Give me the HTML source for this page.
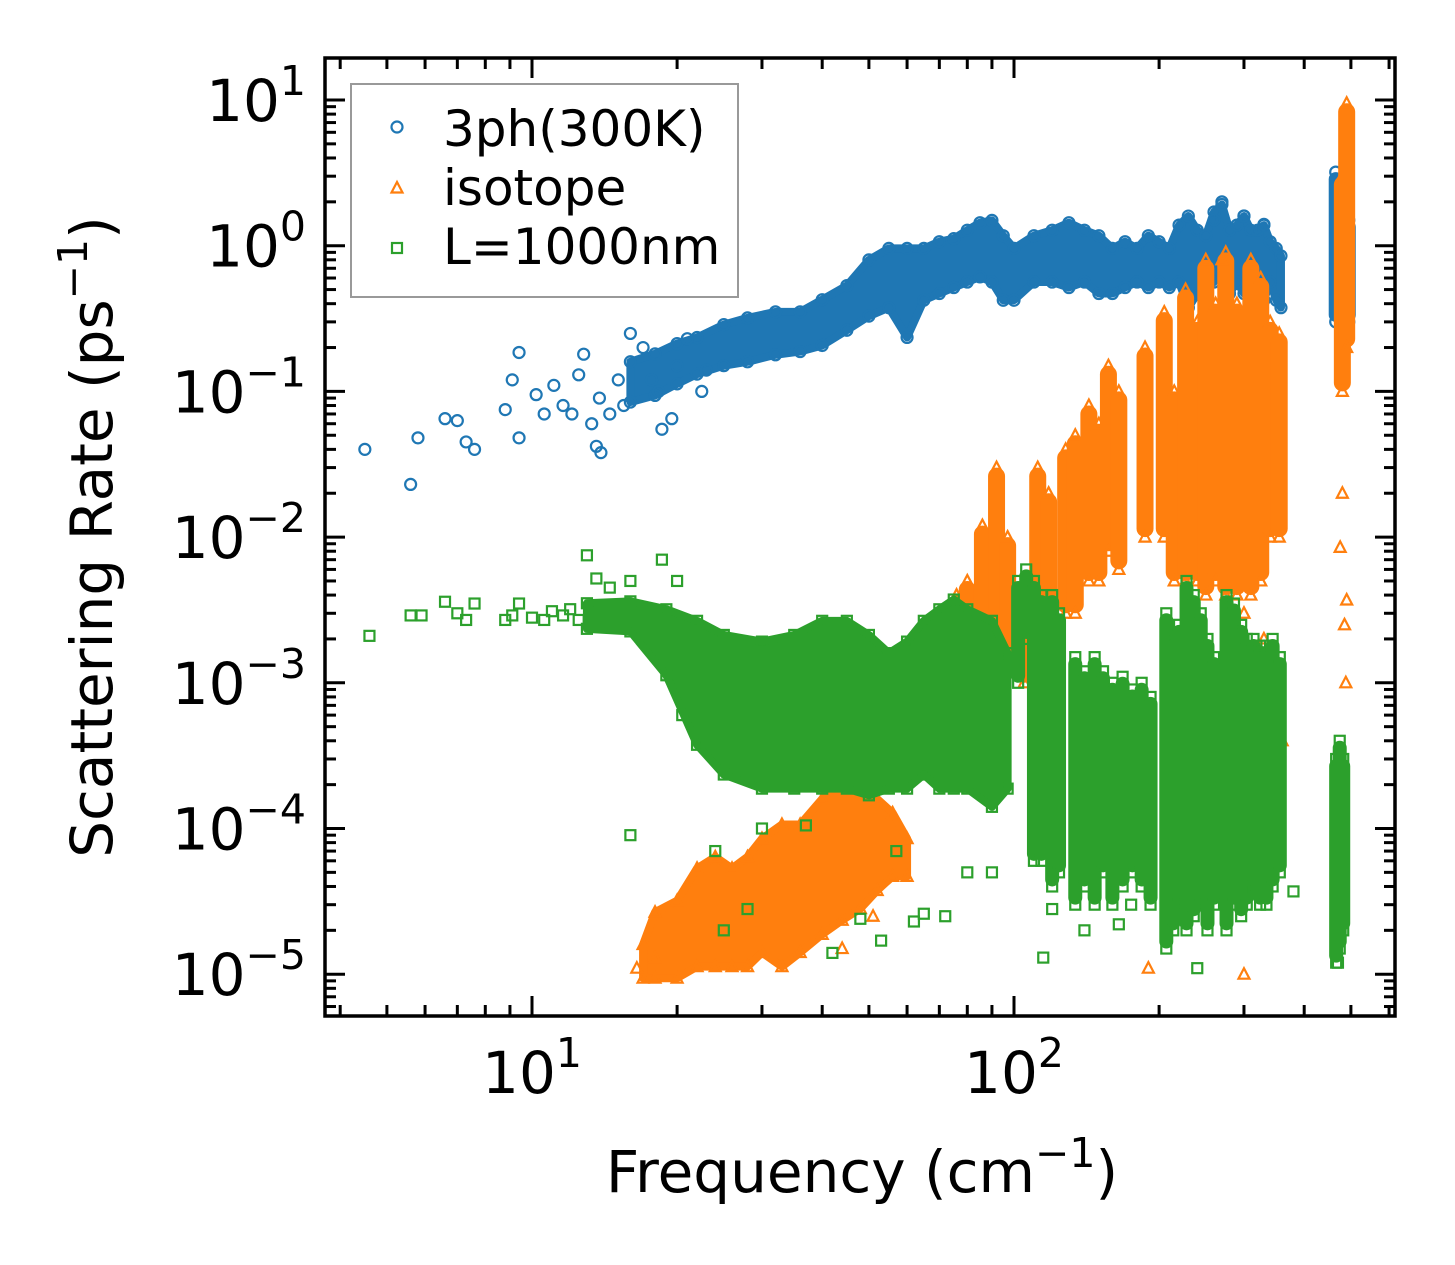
<!DOCTYPE html>
<html><head><meta charset="utf-8"><style>
html,body{margin:0;padding:0;background:#fff;}
svg{display:block;font-family:"DejaVu Sans","Liberation Sans",sans-serif;}
</style></head><body>
<svg id="chart" width="1455" height="1265" viewBox="0 0 1455 1265" xmlns="http://www.w3.org/2000/svg">
<rect width="1455" height="1265" fill="#fff"/>
<g id="plot"></g>
<g id="axes"></g>
</svg>
<script>
// ---------------- data ----------------
// 3ph(300K)
const blueAreaF  = [16,18,20,22,25,28,32,36,40,45,50,55,60,65,70,75,80,85,90,95,100,110,120,130,140,150,160,170,180,190,200,210,220,230,240,250,260,270,280,290,300,310,320,330,340,350,358];
const blueAreaLo = [0.09,0.1,0.12,0.14,0.16,0.17,0.19,0.2,0.22,0.28,0.35,0.4,0.25,0.45,0.5,0.55,0.6,0.65,0.6,0.45,0.45,0.6,0.6,0.55,0.6,0.5,0.5,0.55,0.6,0.55,0.6,0.55,0.6,0.4,0.5,0.55,0.6,0.7,0.5,0.6,0.5,0.6,0.5,0.45,0.6,0.45,0.4];
const blueAreaHi = [0.15,0.17,0.2,0.22,0.27,0.3,0.33,0.33,0.4,0.5,0.75,0.9,0.9,0.9,1.0,1.05,1.2,1.35,1.4,1.1,0.9,1.1,1.2,1.35,1.2,1.1,0.9,1.0,0.9,1.1,1.0,0.9,1.3,1.5,1.2,1.1,1.6,1.8,1.2,1.3,1.5,1.2,1.2,1.3,1.0,0.9,0.8];
const blueSpikeF  = [465,480,495];
const blueSpikeLo = [0.3,0.3,0.3];
const blueSpikeHi = [3.2,2.5,1.5];
const bluePtsF = [4.5,5.6,5.8,6.6,7.0,7.3,7.6,8.8,9.1,9.4,9.4,10.2,10.6,11.1,11.6,12.1,12.5,12.8,13.3,13.6,13.9,13.8,14.5,15.1,15.5,16,17,17.7,18.3,18.6,19.5,20,21,22.5,23,270,300,260,330];
const bluePtsR = [0.04,0.023,0.048,0.065,0.063,0.045,0.04,0.075,0.12,0.185,0.048,0.095,0.07,0.11,0.08,0.07,0.13,0.18,0.06,0.042,0.038,0.09,0.07,0.12,0.08,0.25,0.2,0.12,0.1,0.055,0.065,0.15,0.23,0.1,0.14,2.0,1.6,1.5,1.4];
// isotope
const orAreaF  = [17,18,20,22,24,26,28,30,33,36,40,44,48,52,56,60];
const orAreaLo = [1e-5,1e-5,1e-5,1.2e-5,1.2e-5,1.2e-5,1.2e-5,1.5e-5,1.2e-5,1.5e-5,2e-5,2.5e-5,3e-5,4e-5,5e-5,5e-5];
const orAreaHi = [1.5e-5,2.5e-5,3e-5,5e-5,6e-5,5e-5,6e-5,8e-5,1e-4,1e-4,1.5e-4,2e-4,2e-4,1.5e-4,1.2e-4,8e-5];
const orSpikeF  = [76,80,86,92,97,105,112,118,128,134,143,150,157,165,187,205,215,227,240,250,262,275,290,310,325,340,355,480,490];
const orSpikeLo = [8e-4,1e-3,1.5e-3,2e-3,1.5e-3,1e-3,1.5e-3,2e-3,3e-3,3e-3,5e-3,5e-3,8e-3,6e-3,0.01,0.01,0.005,0.005,0.005,0.004,0.005,0.004,0.004,0.004,0.005,0.01,0.01,0.1,0.2];
const orSpikeHi = [4e-3,5e-3,0.012,0.03,0.01,0.005,0.03,0.02,0.04,0.05,0.08,0.06,0.15,0.1,0.2,0.35,0.1,0.5,0.3,0.8,0.4,0.9,0.4,0.8,0.6,0.3,0.25,3,9.5];
const orPtsF = [190,300,270,480,485,475,490,488,350,360,330,300,250,210,16.5,18,24,44,51];
const orPtsR = [1.1e-5,1e-5,0.8,0.02,0.0025,0.0085,0.0037,1e-3,5e-4,4e-4,2e-3,3e-3,1.5e-3,2e-3,1.1e-5,1.3e-5,2e-5,1.5e-5,2.5e-5];
// L=1000nm
const grAreaF  = [13,16,19,22,25,30,35,40,45,50,55,60,65,70,75,80,90,97];
const grAreaLo = [2.5e-3,2.4e-3,1.2e-3,4e-4,2.5e-4,2e-4,2e-4,2e-4,2e-4,1.8e-4,2e-4,2e-4,2.5e-4,2e-4,2e-4,2e-4,1.5e-4,2e-4];
const grAreaHi = [3.3e-3,3.4e-3,3e-3,2.5e-3,2e-3,1.8e-3,2e-3,2.5e-3,2.5e-3,2e-3,1.5e-3,1.8e-3,2.5e-3,3e-3,3.5e-3,3e-3,2.5e-3,1.5e-3];
const grSpikeF  = [102,106,110,114,120,124,134,140,147,153,160,168,176,184,192,207,214,220,228,236,244,252,260,276,286,296,304,314,324,334,344,356,466,474,482];
const grSpikeLo = [1e-3,2e-3,6e-5,6e-5,4e-5,5e-5,3e-5,4e-5,3e-5,5e-5,3e-5,4e-5,5e-5,4e-5,3e-5,1.5e-5,2e-5,3e-5,2e-5,2.5e-5,3e-5,2e-5,3e-5,2e-5,3e-5,2.5e-5,3e-5,4e-5,3e-5,3e-5,4e-5,5e-5,1.2e-5,1.5e-5,2e-5];
const grSpikeHi = [5e-3,6e-3,5e-3,4e-3,4e-3,3e-3,1.5e-3,1.2e-3,1.5e-3,1.2e-3,1e-3,1.1e-3,9e-4,1e-3,8e-4,3e-3,2e-3,2.5e-3,5e-3,4e-3,3e-3,2e-3,1.5e-3,4e-3,3.5e-3,2.5e-3,2e-3,2e-3,1.8e-3,1.8e-3,2e-3,1.5e-3,3e-4,4e-4,3e-4];
const grPtsF = [4.6,5.6,5.9,6.6,7.0,7.3,7.6,8.8,9.1,9.4,10,10.6,11,11.6,12,12.5,13,13.6,14.5,16,18.6,20,16,19.5,20.5,24,25,28,30,37,42,48,53,57,62,65,72,80,90,115,120,140,165,175,240,300,380,470];
const grPtsR = [2.1e-3,2.9e-3,2.9e-3,3.6e-3,3.0e-3,2.7e-3,3.5e-3,2.7e-3,2.9e-3,3.5e-3,2.8e-3,2.7e-3,3.1e-3,2.9e-3,3.2e-3,2.7e-3,7.5e-3,5.2e-3,4.5e-3,5e-3,7e-3,5e-3,9e-5,1.1e-3,6e-4,7e-5,2e-5,2.8e-5,1e-4,1.05e-4,1.4e-5,2.4e-5,1.7e-5,7e-5,2.3e-5,2.6e-5,2.5e-5,5e-5,5e-5,1.3e-5,2.8e-5,2e-5,2.2e-5,3e-5,1.1e-5,3.8e-5,3.7e-5,1.2e-5];
const yTickExps = [1,0,-1,-2,-3,-4,-5];
const xTickExps = [1,2];

// ---------------- scales ----------------
const L=325, R=1395, T=58, B=1016;
const X0=532, XD=482, Y1=100, YD=145.7;
function xs(f){return X0+XD*(Math.log10(f)-1);}
function ys(r){return Y1+YD*(1-Math.log10(r));}
const NS='http://www.w3.org/2000/svg';
const plot=document.getElementById('plot');
const axes=document.getElementById('axes');
function mk(tag,attrs,parent){const e=document.createElementNS(NS,tag);for(const k in attrs)e.setAttribute(k,attrs[k]);parent.appendChild(e);return e;}

const C={blue:'#1f77b4',orange:'#ff7f0e',green:'#2ca02c'};
function marker(kind,x,y,color,parent){
  let e;
  if(kind==='o') e=mk('circle',{cx:x,cy:y,r:5.5,fill:'none',stroke:color,'stroke-width':2.2},parent);
  else if(kind==='^') e=mk('polygon',{points:`${x},${y-6} ${x-5.5},${y+4.5} ${x+5.5},${y+4.5}`,fill:'none',stroke:color,'stroke-width':2.2},parent);
  else e=mk('rect',{x:x-5,y:y-5,width:10,height:10,fill:'none',stroke:color,'stroke-width':2.2},parent);
  return e;
}
function drawSeries(name,color,kind,aF,aLo,aHi,sF,sLo,sHi,sW,pF,pR){
  const g=mk('g',{},plot);
  
  
  let pts=[];
  for(let i=0;i<aF.length;i++) pts.push(xs(aF[i])+','+(ys(aHi[i])-4));
  for(let i=aF.length-1;i>=0;i--) pts.push(xs(aF[i])+','+(ys(aLo[i])+4));
  const band=mk('polygon',{points:pts.join(' '),fill:color,stroke:color,'stroke-width':8,'stroke-linejoin':'round'},g);
  
  
  for(let i=0;i<aF.length;i++){
    const m1=marker(kind,xs(aF[i]),ys(aHi[i])-4,color,g);
    
    
    const m2=marker(kind,xs(aF[i]),ys(aLo[i])+4,color,g);
    
    
  }
  for(let i=0;i<sF.length;i++){
    const x=xs(sF[i]), y1=ys(sHi[i]), y2=ys(sLo[i]);
    const s=mk('rect',{x:x-sW/2,y:y1,width:sW,height:Math.max(2,y2-y1),fill:color,rx:sW/2},g);
    
    
    const m=marker(kind,x,y1,color,g);
    
    
    const m3=marker(kind,x,y2,color,g);
    
    
  }
  for(let i=0;i<pF.length;i++){
    const m=marker(kind,xs(pF[i]),ys(pR[i]),color,g);
    
    
  }
}
drawSeries('3ph',C.blue,'o',blueAreaF,blueAreaLo,blueAreaHi,blueSpikeF,blueSpikeLo,blueSpikeHi,14,bluePtsF,bluePtsR);
drawSeries('isotope',C.orange,'^',orAreaF,orAreaLo,orAreaHi,orSpikeF,orSpikeLo,orSpikeHi,17,orPtsF,orPtsR);
drawSeries('boundary',C.green,'s',grAreaF,grAreaLo,grAreaHi,grSpikeF,grSpikeLo,grSpikeHi,14,grPtsF,grPtsR);

// ---------------- axes ----------------
const frame=mk('rect',{x:L,y:T,width:R-L,height:B-T,fill:'none',stroke:'#000','stroke-width':3.5},axes);


function tickLine(x1,y1,x2,y2,nm){const t=mk('line',{x1,y1,x2,y2,stroke:'#000','stroke-width':3},axes);}
for(let e=-6;e<=1;e++){
  for(let m=1;m<10;m++){
    const v=m*Math.pow(10,e); const y=ys(v);
    if(y<T||y>B) continue;
    const len=m===1?20:11;
    tickLine(L,y,L+len,y,'y-tick');
    tickLine(R,y,R-len,y,'y-tick-right');
  }
}
for(let e=0;e<=2;e++){
  for(let m=1;m<10;m++){
    const v=m*Math.pow(10,e); const x=xs(v);
    if(x<L||x>R) continue;
    const len=m===1?20:11;
    tickLine(x,B,x,B-len,'x-tick');
    tickLine(x,T,x,T+len,'x-tick-top');
  }
}
yTickExps.forEach(e=>{
  const t=mk('text',{x:306,y:ys(Math.pow(10,e))+21,'text-anchor':'end','font-size':58,fill:'#000'},axes);
  
  
  t.innerHTML='10<tspan dy="-26" font-size="41">'+(e<0?'\u2212':'')+Math.abs(e)+'</tspan>';
});
xTickExps.forEach(e=>{
  const t=mk('text',{x:xs(Math.pow(10,e)),y:1093,'text-anchor':'middle','font-size':58,fill:'#000'},axes);
  
  
  t.innerHTML='10<tspan dy="-26" font-size="41">'+e+'</tspan>';
});
</script>
<svg style="position:absolute;left:0;top:0" width="1455" height="1265">
<text x="862" y="1192" text-anchor="middle" font-size="58" font-family="DejaVu Sans, Liberation Sans, sans-serif">Frequency (cm<tspan dy="-25" font-size="41">−1</tspan><tspan dy="25">)</tspan></text>
<text transform="translate(112,537) rotate(-90)" text-anchor="middle" font-size="58" font-family="DejaVu Sans, Liberation Sans, sans-serif">Scattering Rate (ps<tspan dy="-25" font-size="41">−1</tspan><tspan dy="25">)</tspan></text>
<g>
<rect x="351" y="84" width="387" height="213" fill="#fff" fill-opacity="0.8" stroke="#999" stroke-width="2"/>
<circle cx="397" cy="127" r="5.5" fill="none" stroke="#1f77b4" stroke-width="2.2"/>
<text x="443" y="146" font-size="50" font-family="DejaVu Sans, Liberation Sans, sans-serif">3ph(300K)</text>
<polygon points="397,182 391.5,192.5 402.5,192.5" fill="none" stroke="#ff7f0e" stroke-width="2.2"/>
<text x="443" y="205" font-size="50" font-family="DejaVu Sans, Liberation Sans, sans-serif">isotope</text>
<rect x="392" y="243" width="10" height="10" fill="none" stroke="#2ca02c" stroke-width="2.2"/>
<text x="443" y="264" font-size="50" font-family="DejaVu Sans, Liberation Sans, sans-serif">L=1000nm</text>
</g>
</svg>
</body></html>
